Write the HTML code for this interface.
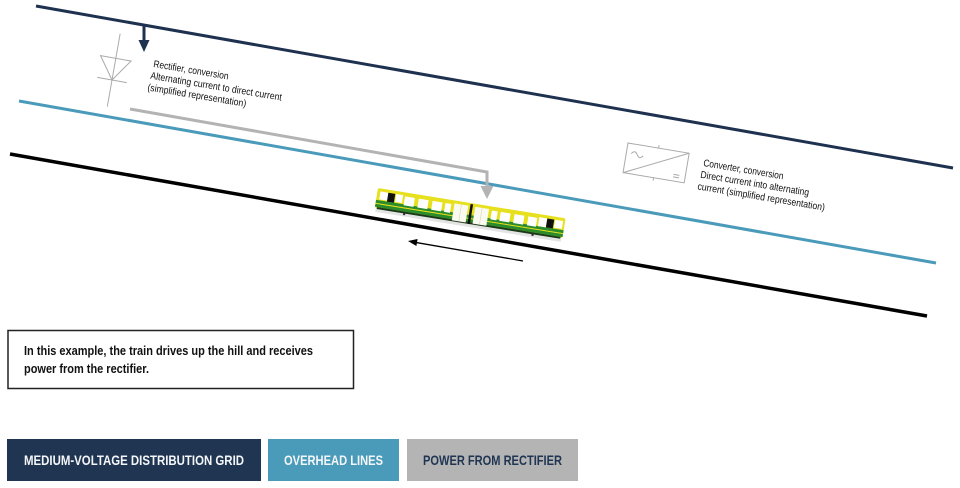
<!DOCTYPE html>
<html>
<head>
<meta charset="utf-8">
<style>
  html,body{margin:0;padding:0;background:#fff;}
  svg{display:block;}
  .ann{font-family:"Liberation Sans Narrow","Liberation Sans",sans-serif;font-size:10px;fill:#111;}
  .box{font-family:"Liberation Sans Narrow","Liberation Sans",sans-serif;font-size:13px;font-weight:bold;fill:#111;}
  .leg{font-family:"Liberation Sans Narrow","Liberation Sans",sans-serif;font-size:14px;font-weight:bold;}
</style>
</head>
<body>
<svg width="960" height="488" viewBox="0 0 960 488" xmlns="http://www.w3.org/2000/svg">
  <!-- main lines -->
  <line x1="36" y1="6" x2="953" y2="168" stroke="#1e3250" stroke-width="3"/>
  <line x1="19" y1="101" x2="936" y2="263" stroke="#4a9aba" stroke-width="3"/>
  <line x1="10" y1="154" x2="927" y2="316" stroke="#000" stroke-width="3.5"/>

  <!-- navy arrow -->
  <line x1="144" y1="24" x2="144" y2="42" stroke="#1e3250" stroke-width="3"/>
  <polygon points="138.5,40 149.5,40 144,52" fill="#1e3250"/>

  <!-- gray power path -->
  <polyline points="130,109 487,172 487,187" fill="none" stroke="#b3b3b3" stroke-width="3"/>
  <polygon points="480.5,186 493.5,186 487,199" fill="#b3b3b3"/>

  <!-- diode symbol -->
  <g transform="translate(112,80) rotate(10)" stroke="#aaa" stroke-width="1" fill="none">
    <line x1="0" y1="-47" x2="0" y2="27"/>
    <polygon points="-15.5,-22 15.5,-22 0,0"/>
    <line x1="-15" y1="0" x2="15" y2="0"/>
  </g>

  <!-- rectifier text -->
  <g transform="translate(153,67) rotate(9.5)">
    <text class="ann" x="0" y="0" textLength="76" lengthAdjust="spacingAndGlyphs">Rectifier, conversion</text>
    <text class="ann" x="-1" y="12" textLength="133" lengthAdjust="spacingAndGlyphs">Alternating current to direct current</text>
    <text class="ann" x="-2" y="24" textLength="100" lengthAdjust="spacingAndGlyphs">(simplified representation)</text>
  </g>

  <!-- converter symbol -->
  <g transform="translate(628,143) rotate(9.5)" stroke="#aaa" stroke-width="1" fill="none">
    <rect x="0" y="0" width="62" height="30"/>
    <line x1="0" y1="30" x2="62" y2="0"/>
    <path d="M5,10 q3,-5 6,0 t6,0"/>
    <line x1="50" y1="23.5" x2="56" y2="23.5"/>
    <line x1="50" y1="26" x2="56" y2="26"/>
    <line x1="31" y1="0" x2="31" y2="-3"/>
    <line x1="31" y1="30" x2="31" y2="33"/>
  </g>

  <!-- converter text -->
  <g transform="translate(703,166) rotate(9.5)">
    <text class="ann" x="0" y="0" textLength="81" lengthAdjust="spacingAndGlyphs">Converter, conversion</text>
    <text class="ann" x="-1" y="12" textLength="110" lengthAdjust="spacingAndGlyphs">Direct current into alternating</text>
    <text class="ann" x="-2" y="24" textLength="129" lengthAdjust="spacingAndGlyphs">current (simplified representation)</text>
  </g>

  <!-- train -->
  <g transform="translate(378,188) rotate(9.2)">
    <rect x="1" y="21" width="188" height="3" fill="#e4e4e4"/>
    <rect x="0" y="0" width="190" height="20" rx="2" fill="#e6e01e"/>
    <rect x="0" y="12" width="190" height="7" fill="#2b8c2b"/>
    <rect x="0" y="15" width="190" height="1" fill="#e6e01e"/>
    <rect x="2" y="19" width="186" height="2" fill="#1a3a1a"/>
    <!-- left section windows -->
    <rect x="3" y="3" width="8" height="8" fill="#fff"/>
    <rect x="11" y="3" width="7" height="9" fill="#111"/>
    <rect x="19" y="3" width="7" height="8" fill="#fff"/>
    <rect x="28" y="4" width="10" height="9" fill="#fff"/>
    <rect x="42" y="4" width="10" height="9" fill="#fff"/>
    <rect x="56" y="4" width="10" height="9" fill="#fff"/>
    <rect x="69" y="4" width="6" height="9" fill="#fff"/>
    <rect x="78" y="3" width="14" height="17" fill="#fafaf0"/>
    <line x1="85" y1="3" x2="85" y2="20" stroke="#d8d8b0" stroke-width="0.6"/>
    <!-- divider -->
    <rect x="94" y="1" width="2.5" height="20" fill="#111"/>
    <!-- right section -->
    <rect x="99" y="3" width="14" height="17" fill="#fafaf0"/>
    <line x1="106" y1="3" x2="106" y2="20" stroke="#d8d8b0" stroke-width="0.6"/>
    <rect x="116" y="4" width="6" height="9" fill="#fff"/>
    <rect x="125" y="4" width="10" height="9" fill="#fff"/>
    <rect x="139" y="4" width="10" height="9" fill="#fff"/>
    <rect x="153" y="4" width="9" height="9" fill="#fff"/>
    <rect x="164" y="3" width="8" height="9" fill="#fff"/>
    <rect x="172" y="3" width="7" height="9" fill="#111"/>
    <rect x="180" y="3" width="8" height="8" fill="#fff"/>
    <circle cx="30" cy="21.5" r="1.2" fill="#333"/>
    <circle cx="160" cy="21.5" r="1.2" fill="#333"/>
  </g>

  <!-- small direction arrow -->
  <line x1="523" y1="261" x2="415" y2="242.3" stroke="#000" stroke-width="1.3"/>
  <polygon points="408,241 417.6,239 416.4,246" fill="#000"/>

  <!-- text box -->
  <rect x="8" y="330.5" width="345.5" height="58" fill="#fff" stroke="#222" stroke-width="1.5"/>
  <text class="box" x="24" y="355" textLength="289" lengthAdjust="spacingAndGlyphs">In this example, the train drives up the hill and receives</text>
  <text class="box" x="24" y="373" textLength="125" lengthAdjust="spacingAndGlyphs">power from the rectifier.</text>

  <!-- legend -->
  <rect x="7" y="439" width="254" height="42" fill="#1f3552"/>
  <text class="leg" x="24" y="465" fill="#f4f6f8" textLength="220" lengthAdjust="spacingAndGlyphs">MEDIUM-VOLTAGE DISTRIBUTION GRID</text>
  <rect x="268" y="439" width="131" height="42" fill="#4a9aba"/>
  <text class="leg" x="284" y="465" fill="#f4f6f8" textLength="99" lengthAdjust="spacingAndGlyphs">OVERHEAD LINES</text>
  <rect x="407" y="439" width="171" height="42" fill="#b4b4b4"/>
  <text class="leg" x="423" y="465" fill="#1f3552" textLength="139" lengthAdjust="spacingAndGlyphs">POWER FROM RECTIFIER</text>
</svg>
</body>
</html>
